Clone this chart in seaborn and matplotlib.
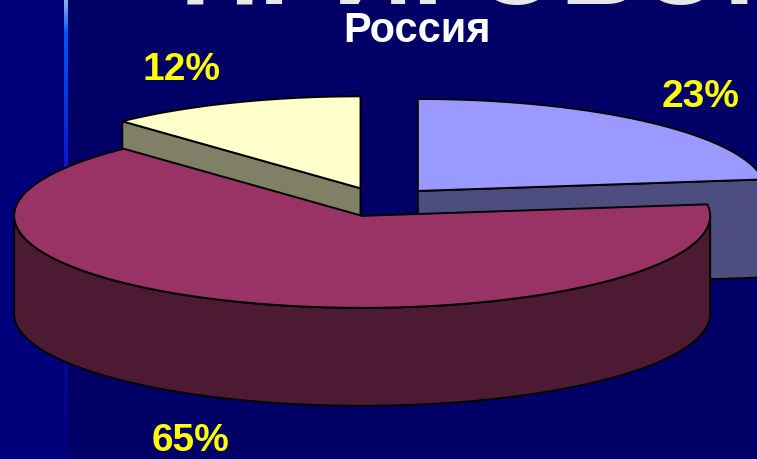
import numpy as np
import matplotlib
matplotlib.use("Agg")
import matplotlib.pyplot as plt
import seaborn as sns
from matplotlib.patches import Polygon, Rectangle
from matplotlib.colors import LinearSegmentedColormap


# chart data
shares = [23, 65, 12]
pct_labels = ["23%", "65%", "12%"]
chart_title = "Россия"
header_text = "ПРИГОВОР"

# style / layout
top_colors = ["#9999FF", "#993366", "#FFFFCC"]
explode = [0.16, 0.16, 0.16]
label_dist = [1.23, 1.46, 1.40]
label_va = ["baseline", "center", "center"]
START_ANGLE = 90
CX, CY = 381, 203
RX, RY = 348, 92
DEPTH = 98
BG = "#000066"
STRIP = "#00007A"
FONT = "Liberation Sans"


def rim_point(apex, t):
    r = np.deg2rad(t)
    return apex[0] + RX * np.cos(r), apex[1] - RY * np.sin(r)


def arc(apex, a, b, n=200):
    ts = np.linspace(a, b, n)
    r = np.deg2rad(ts)
    return np.column_stack([apex[0] + RX * np.cos(r), apex[1] - RY * np.sin(r)])


def draw_slice(ax, apex, lo, hi, color):
    side = tuple(np.array(sns.desaturate(color, 1.0)) * 0.5)
    kw = dict(edgecolor="black", linewidth=1.4, joinstyle="round")

    # radial side faces that look at the viewer
    for t, visible in ((lo, np.cos(np.deg2rad(lo)) > 1e-6),
                       (hi, np.cos(np.deg2rad(hi)) < -1e-6)):
        if visible:
            x, y = rim_point(apex, t)
            quad = [apex, (x, y), (x, y + DEPTH), (apex[0], apex[1] + DEPTH)]
            ax.add_patch(Polygon(quad, closed=True, facecolor=side, **kw))

    # front part of the outer rim
    for k in range(-2, 3):
        a = max(lo, -180 + 360 * k)
        b = min(hi, 360 * k)
        if b > a:
            top = arc(apex, a, b)
            bottom = top[::-1] + [0, DEPTH]
            ax.add_patch(Polygon(np.vstack([top, bottom]), closed=True,
                                 facecolor=side, **kw))

    # top face
    pts = np.vstack([[apex], arc(apex, lo, hi)])
    ax.add_patch(Polygon(pts, closed=True, facecolor=color, **kw))


def main():
    sns.set_theme(style="white")
    plt.rcParams["font.family"] = [FONT, "DejaVu Sans"]

    fig = plt.figure(figsize=(7.57, 4.60), dpi=100, facecolor=BG)
    ax = fig.add_axes([0, 0, 1, 1])
    ax.set_facecolor(BG)
    ax.set_xlim(0, 757)
    ax.set_ylim(460, 0)
    ax.axis("off")

    # slide decoration: left strip and glowing vertical line
    ax.add_patch(Rectangle((0, 0), 65, 460, facecolor=STRIP, edgecolor="none"))
    glow = LinearSegmentedColormap.from_list(
        "glow", [(0.0, "#90B0F0"), (0.07, "#0055FF"), (0.35, "#0A1ACC"),
                 (1.0, STRIP)])
    ax.imshow(np.linspace(0, 1, 200)[:, None], cmap=glow, aspect="auto",
              extent=[64, 68, 460, 0], zorder=1)

    # big header, mostly above the visible area
    ax.text(180, 4, header_text, color="#E8E8E8", fontsize=80,
            fontweight="bold", ha="left", va="baseline")

    ax.text(417, 42, chart_title, color="white", fontsize=30,
            fontweight="bold", ha="center", va="baseline")

    # slice angles, clockwise from the start angle
    total = sum(shares)
    slices = []
    cum = 0
    for i, s in enumerate(shares):
        hi = START_ANGLE - cum / total * 360
        lo = START_ANGLE - (cum + s) / total * 360
        cum += s
        mid = np.deg2rad((lo + hi) / 2)
        apex = (CX + explode[i] * RX * np.cos(mid),
                CY - explode[i] * RY * np.sin(mid))
        slices.append((np.sin(mid), i, apex, lo, hi, mid))

    # paint back to front
    for _, i, apex, lo, hi, mid in sorted(slices, key=lambda s: -s[0]):
        draw_slice(ax, apex, lo, hi, top_colors[i])

    for _, i, apex, lo, hi, mid in slices:
        lx = apex[0] + label_dist[i] * RX * np.cos(mid)
        ly = apex[1] - label_dist[i] * RY * np.sin(mid)
        if np.sin(mid) < 0:
            ly += DEPTH
        ax.text(lx, ly, pct_labels[i], color="#FFFF00", fontsize=28,
                fontweight="bold", ha="center", va=label_va[i])

    fig.savefig("out.png", dpi=100, facecolor=BG)


if __name__ == "__main__":
    main()
